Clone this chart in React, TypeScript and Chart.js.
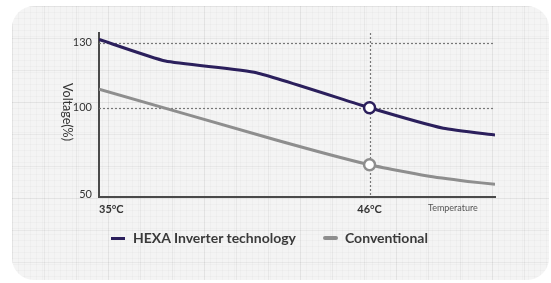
import React, { useEffect, useRef } from "react";
import { Chart, registerables } from "chart.js";

Chart.register(...registerables);

// ---- data ----
const hexaTemps = [35, 37.7, 41.4, 46, 49, 51.1];
const hexaValues = [131.6, 121.6, 116.2, 100, 90.5, 87.4];
const convTemps = [35, 42.2, 46, 48.3, 50, 51.1];
const convValues = [108.6, 85.1, 73.6, 68.5, 65.9, 64.6];
const seriesNames = ["HEXA Inverter technology", "Conventional"];
const seriesColors = ["#2b1f5c", "#8e8e8e"];
const highlightTemp = 46;
const yTickValues = [60, 100, 130];
const yTickLabels = ["50", "100", "130"];
const xTickValues = [35, 46, 50.4];
const xTickLabels = ["35°C", "46°C", "Temperature"];
const refYValues = [100, 130];
const yTitle = "Voltage(%)";

const FONT = "Lato, 'Open Sans', sans-serif";

const refLinesPlugin = {
  id: "refLines",
  beforeDatasetsDraw(chart: any) {
    const { ctx, chartArea, scales } = chart;
    ctx.save();
    ctx.strokeStyle = "#777";
    ctx.lineWidth = 1.2;
    ctx.setLineDash([2, 2]);
    refYValues.forEach((v) => {
      const y = Math.round(scales.y.getPixelForValue(v)) + 0.5;
      ctx.beginPath();
      ctx.moveTo(chartArea.left, y);
      ctx.lineTo(chartArea.right, y);
      ctx.stroke();
    });
    const x = Math.round(scales.x.getPixelForValue(highlightTemp)) + 0.5;
    ctx.beginPath();
    ctx.moveTo(x, chartArea.top);
    ctx.lineTo(x, chartArea.bottom);
    ctx.stroke();
    ctx.restore();
  },
  afterDraw(chart: any) {
    const { ctx, chartArea } = chart;
    ctx.save();
    ctx.translate(67, (chartArea.top + chartArea.bottom) / 2 - 3);
    ctx.rotate(Math.PI / 2);
    ctx.font = `12.5px ${FONT}`;
    ctx.fillStyle = "#333";
    ctx.textAlign = "center";
    ctx.textBaseline = "middle";
    ctx.fillText(yTitle, 0, 0);
    ctx.restore();
  },
};

export default function App() {
  const ref = useRef<HTMLCanvasElement>(null);
  useEffect(() => {
    const pointRadius = (temps: number[]) => (c: any) =>
      temps[c.dataIndex] === highlightTemp ? 5.5 : 0;
    const chart = new Chart(ref.current!, {
      type: "line",
      data: {
        datasets: [
          {
            label: seriesNames[0],
            data: hexaTemps.map((t, i) => ({ x: t, y: hexaValues[i] })),
            borderColor: seriesColors[0],
            borderWidth: 3,
            tension: 0.15,
            pointRadius: pointRadius(hexaTemps),
            pointBackgroundColor: "#fff",
            pointBorderColor: seriesColors[0],
            pointBorderWidth: 2.5,
          },
          {
            label: seriesNames[1],
            data: convTemps.map((t, i) => ({ x: t, y: convValues[i] })),
            borderColor: seriesColors[1],
            borderWidth: 3,
            tension: 0.15,
            pointRadius: pointRadius(convTemps),
            pointBackgroundColor: "#fff",
            pointBorderColor: seriesColors[1],
            pointBorderWidth: 2.5,
          },
        ],
      },
      options: {
        animation: false,
        responsive: true,
        maintainAspectRatio: false,
        layout: { padding: { left: 40, top: 33, right: 56, bottom: 56 } },
        plugins: { legend: { display: false }, tooltip: { enabled: false } },
        scales: {
          x: {
            type: "linear",
            min: 35,
            max: 51.1,
            grid: { display: false, drawTicks: false },
            border: { display: true, color: "#4a4a4a", width: 2 },
            afterBuildTicks: (s: any) => {
              s.ticks = xTickValues.map((v) => ({ value: v }));
            },
            afterFit: (s: any) => {
              s.height = 30;
            },
            ticks: {
              autoSkip: false,
              maxRotation: 0,
              align: "inner",
              padding: 6,
              callback: (_v: any, i: number) => xTickLabels[i],
              color: (c: any) => (c.index === 2 ? "#555" : "#333"),
              font: (c: any) =>
                c.index === 2
                  ? { family: FONT, size: 9, weight: "normal" }
                  : { family: FONT, size: 11, weight: "bold" },
            },
          },
          y: {
            type: "linear",
            min: 58.7,
            max: 134.6,
            grid: { display: false, drawTicks: false },
            border: { display: true, color: "#4a4a4a", width: 2 },
            afterBuildTicks: (s: any) => {
              s.ticks = yTickValues.map((v) => ({ value: v }));
            },
            afterFit: (s: any) => {
              s.width = 59;
            },
            ticks: {
              autoSkip: false,
              padding: 7,
              color: "#333",
              callback: (_v: any, i: number) => yTickLabels[i],
              font: { family: FONT, size: 11, weight: "normal" },
            },
          },
        },
      },
      plugins: [refLinesPlugin],
    } as any);
    return () => chart.destroy();
  }, []);

  const legendText: React.CSSProperties = {
    fontFamily: FONT,
    fontWeight: 700,
    fontSize: 14,
    color: "#3a3a3a",
    lineHeight: "18px",
    whiteSpace: "nowrap",
  };

  return (
    <div style={{ position: "fixed", left: 0, top: 0, width: 551, height: 283, background: "#fff" }}>
      <div
        style={{
          position: "absolute",
          left: 12,
          top: 6,
          width: 537,
          height: 274,
          borderRadius: 22,
          backgroundColor: "#f4f4f4",
          backgroundImage:
            "linear-gradient(to right, rgba(0,0,0,0.05) 1px, transparent 1px)," +
            "linear-gradient(to bottom, rgba(0,0,0,0.05) 1px, transparent 1px)," +
            "linear-gradient(to right, rgba(0,0,0,0.018) 1px, transparent 1px)," +
            "linear-gradient(to bottom, rgba(0,0,0,0.018) 1px, transparent 1px)",
          backgroundSize: "32px 32px, 32px 32px, 6px 6px, 6px 6px",
        }}
      />
      <div style={{ position: "absolute", left: 0, top: 0, width: 551, height: 283 }}>
        <canvas ref={ref} />
      </div>
      <div style={{ position: "absolute", left: 111, top: 229, display: "flex", alignItems: "center" }}>
        <span style={{ display: "inline-block", width: 14, height: 3, background: seriesColors[0], marginRight: 8 }} />
        <span style={legendText}>{seriesNames[0]}</span>
      </div>
      <div style={{ position: "absolute", left: 323, top: 229, display: "flex", alignItems: "center" }}>
        <span
          style={{ display: "inline-block", width: 15, height: 4, borderRadius: 2, background: seriesColors[1], marginRight: 7 }}
        />
        <span style={legendText}>{seriesNames[1]}</span>
      </div>
    </div>
  );
}
